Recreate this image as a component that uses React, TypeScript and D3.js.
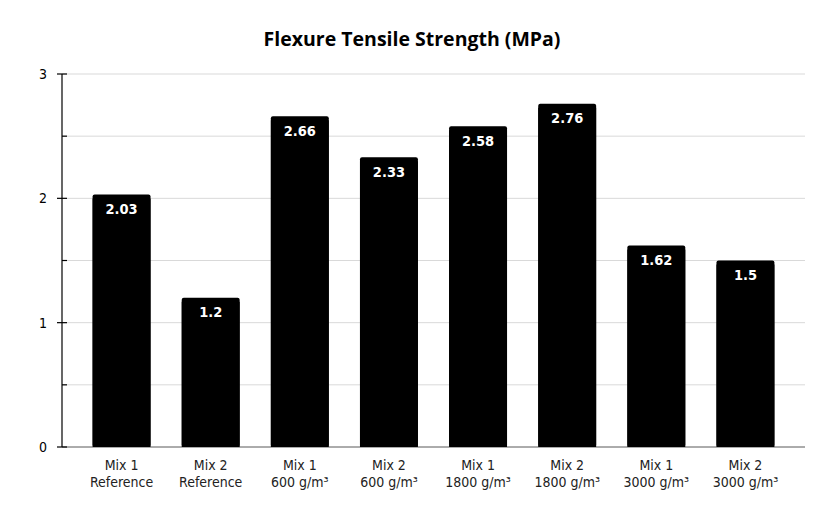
import React from "react";
import * as d3 from "d3";

const categories = [
  ["Mix 1", "Reference"],
  ["Mix 2", "Reference"],
  ["Mix 1", "600 g/m³"],
  ["Mix 2", "600 g/m³"],
  ["Mix 1", "1800 g/m³"],
  ["Mix 2", "1800 g/m³"],
  ["Mix 1", "3000 g/m³"],
  ["Mix 2", "3000 g/m³"],
];
const values = [2.03, 1.2, 2.66, 2.33, 2.58, 2.76, 1.62, 1.5];
const majorTicks = [0, 1, 2, 3];
const gridTicks = [0.5, 1, 1.5, 2, 2.5, 3];
const minorTicks = [0.5, 1.5, 2.5];
const title = "Flexure Tensile Strength (MPa)";

const W = 830;
const H = 516;
const axisX = 62;
const plotRight = 805;
const yTop = 74;
const yBottom = 447;

export default function App() {
  const y = d3.scaleLinear().domain([0, 3]).range([yBottom, yTop]);
  const x = d3
    .scaleBand<number>()
    .domain(d3.range(categories.length))
    .range([77, 790])
    .paddingInner(0.35)
    .paddingOuter(0.175);
  const font = "'DejaVu Sans Condensed', 'DejaVu Sans', Verdana, sans-serif";
  return (
    <svg
      width={W}
      height={H}
      style={{ position: "absolute", left: 0, top: 0, background: "#fff" }}
    >
      <text
        x={412}
        y={46}
        textAnchor="middle"
        fontFamily="'Open Sans', sans-serif"
        fontWeight="bold"
        fontSize={19.5}
        fill="#000"
      >
        {title}
      </text>
      {gridTicks.map((t) => (
        <line
          key={"g" + t}
          x1={axisX}
          x2={plotRight}
          y1={y(t)}
          y2={y(t)}
          stroke="#d9d9d9"
          strokeWidth={1}
        />
      ))}
      <line x1={axisX} x2={plotRight} y1={yBottom} y2={yBottom} stroke="#595959" strokeWidth={1} />
      <line x1={axisX} x2={axisX} y1={yTop} y2={yBottom} stroke="#000" strokeWidth={1.2} />
      {majorTicks.map((t) => (
        <g key={"m" + t}>
          <line x1={axisX - 5} x2={axisX + 5} y1={y(t)} y2={y(t)} stroke="#000" strokeWidth={1.2} />
          <text
            x={axisX - 15}
            y={y(t) + 5}
            textAnchor="end"
            fontFamily={font}
            fontSize={14}
            fill="#000"
          >
            {t}
          </text>
        </g>
      ))}
      {minorTicks.map((t) => (
        <line key={"n" + t} x1={axisX} x2={axisX + 5} y1={y(t)} y2={y(t)} stroke="#000" strokeWidth={1.2} />
      ))}
      {values.map((v, i) => {
        const bx = x(i)!;
        const bw = x.bandwidth();
        return (
          <g key={"b" + i}>
            <rect x={bx} y={y(v)} width={bw} height={yBottom - y(v)} rx={2} fill="#000" />
            <rect x={bx} y={y(v) + 4} width={bw} height={yBottom - y(v) - 4} fill="#000" />
            <text
              x={bx + bw / 2}
              y={y(v) + 19.5}
              textAnchor="middle"
              fontFamily={font}
              fontWeight="bold"
              fontSize={14.5}
              fill="#fff"
            >
              {v}
            </text>
            {categories[i].map((line, j) => (
              <text
                key={j}
                x={bx + bw / 2}
                y={470 + j * 16.5}
                textAnchor="middle"
                fontFamily={font}
                fontSize={14}
                fill="#222"
              >
                {line}
              </text>
            ))}
          </g>
        );
      })}
    </svg>
  );
}
